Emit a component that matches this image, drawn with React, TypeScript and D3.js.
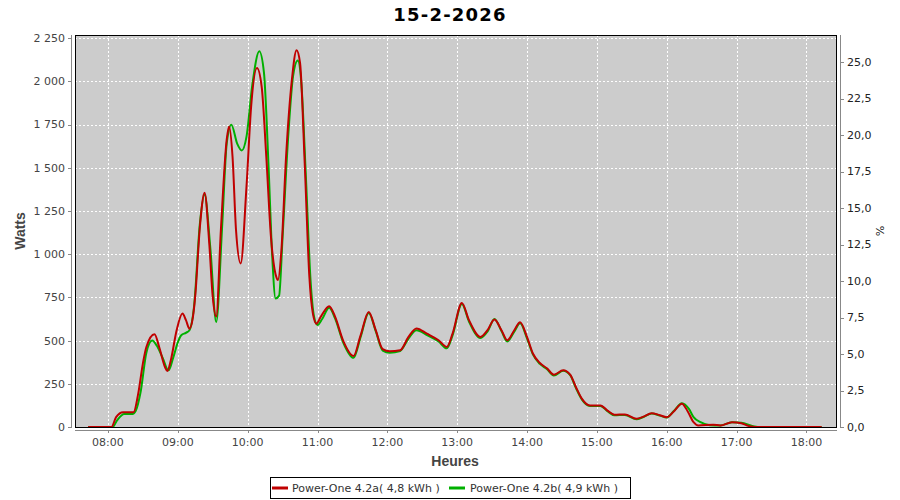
import React from "react";
import * as d3 from "d3";

const TITLE = "15-2-2026";
const SERIES_NAMES = ["Power-One 4.2a( 4,8 kWh )", "Power-One 4.2b( 4,9 kWh )"];
const X_TICKS = ["08:00", "09:00", "10:00", "11:00", "12:00", "13:00", "14:00", "15:00", "16:00", "17:00", "18:00"];
const Y_TICKS = [0, 250, 500, 750, 1000, 1250, 1500, 1750, 2000, 2250];
const PCT_TICKS = [0, 2.5, 5, 7.5, 10, 12.5, 15, 17.5, 20, 22.5, 25];

const redTimes = ["07:43","08:03","08:07","08:13","08:22","08:26","08:30","08:33","08:40","08:44","08:49","08:51","08:54","08:59","09:04","09:07","09:10","09:13","09:15","09:19","09:23","09:27","09:30","09:33","09:37","09:42","09:44","09:47","09:50","09:54","09:59","10:03","10:08","10:12","10:16","10:20","10:25","10:26","10:29","10:33","10:38","10:42","10:45","10:49","10:53","10:56","10:59","11:03","11:10","11:15","11:22","11:31","11:37","11:44","11:50","11:56","12:02","12:11","12:18","12:25","12:34","12:44","12:51","12:56","13:04","13:10","13:20","13:26","13:32","13:38","13:43","13:49","13:54","14:00","14:05","14:11","14:17","14:23","14:31","14:37","14:42","14:47","14:54","15:03","15:09","15:15","15:24","15:34","15:40","15:47","15:54","16:00","16:06","16:13","16:18","16:23","16:27","16:40","16:46","16:56","17:04","17:11","17:20","18:13"];
const redValues = [0,0,57,86,86,193,367,463,536,463,347,324,386,560,656,618,569,637,760,1160,1356,1064,753,640,1140,1662,1739,1565,1140,946,1391,1855,2077,1971,1565,1101,860,850,1024,1565,2010,2180,2107,1527,869,657,598,640,699,640,500,411,530,666,560,450,438,444,520,570,540,502,463,540,718,620,521,560,622,560,502,560,606,520,425,370,340,303,328,303,230,164,125,125,95,71,73,48,60,80,68,57,90,135,90,28,9,13,9,28,22,5,0,0];

const greenTimes = ["07:43","08:04","08:08","08:14","08:21","08:24","08:28","08:33","08:38","08:42","08:47","08:52","08:56","09:00","09:03","09:07","09:10","09:14","09:19","09:23","09:28","09:33","09:38","09:42","09:46","09:51","09:55","09:59","10:04","10:10","10:14","10:18","10:21","10:24","10:27","10:30","10:35","10:39","10:43","10:46","10:50","10:54","10:57","11:00","11:04","11:10","11:15","11:22","11:31","11:37","11:44","11:50","11:56","12:02","12:11","12:18","12:25","12:34","12:44","12:51","12:56","13:04","13:10","13:20","13:26","13:32","13:38","13:43","13:49","13:54","14:00","14:05","14:11","14:17","14:23","14:31","14:37","14:42","14:47","14:54","15:03","15:09","15:15","15:24","15:34","15:40","15:47","15:54","16:00","16:06","16:13","16:19","16:23","16:29","16:37","16:46","16:56","17:04","17:14","17:22","18:13"];
const greenValues = [0,0,40,75,75,95,200,430,500,470,400,328,400,490,531,545,560,700,1180,1345,1030,608,1150,1640,1749,1640,1600,1680,1980,2174,2050,1500,1000,744,760,1100,1700,2030,2120,2000,1450,850,640,590,625,690,630,490,400,520,660,555,442,430,440,510,560,532,495,455,530,712,612,515,552,625,555,495,552,600,512,420,365,335,298,325,300,225,160,122,122,92,68,70,45,58,78,66,55,92,138,105,57,28,10,9,28,25,5,0,0];

const W = 900, H = 500;
const PL = 75, PR = 837, PT = 35, PB = 427;

function toMin(s: string): number {
  const [h, m] = s.split(":").map(Number);
  return h * 60 + m;
}

export default function App() {
  const x = d3.scaleLinear().domain([451.7, 1106.2]).range([PL, PR]);
  const y = d3.scaleLinear().domain([0, 2268]).range([PB, PT]);
  const yPct = d3.scaleLinear().domain([0, 26.85]).range([PB, PT]);

  const line = d3
    .line<[number, number]>()
    .x((d) => x(d[0]))
    .y((d) => y(d[1]))
    .curve(d3.curveMonotoneX);

  const red: [number, number][] = redTimes.map((t, i) => [toMin(t), redValues[i]]);
  const green: [number, number][] = greenTimes.map((t, i) => [toMin(t), greenValues[i]]);

  const tickFont = { fontFamily: "DejaVu Sans", fontSize: 11, fill: "#444" } as const;
  const labelFont = { fontFamily: "Liberation Sans", fontSize: 14, fontWeight: "bold", fill: "#444" } as const;

  return (
    <svg width={W} height={H} style={{ position: "absolute", left: 0, top: 0, background: "#fff" }}>
      <defs>
        <clipPath id="plotclip">
          <rect x={PL} y={PT} width={PR - PL} height={PB - PT} />
        </clipPath>
      </defs>
      <text x={450} y={21} textAnchor="middle" fontFamily="DejaVu Sans" fontWeight="bold" fontSize={18} letterSpacing={1.2} fill="#000">
        {TITLE}
      </text>
      <rect x={PL} y={PT} width={PR - PL} height={PB - PT} fill="#cccccc" />
      {X_TICKS.map((t) => (
        <line key={"gx" + t} x1={Math.round(x(toMin(t))) + 0.5} x2={Math.round(x(toMin(t))) + 0.5} y1={PT} y2={PB} stroke="#fff" strokeDasharray="2,2" shapeRendering="crispEdges" />
      ))}
      {Y_TICKS.filter((v) => v > 0).map((v) => (
        <line key={"gy" + v} x1={PL} x2={PR} y1={Math.round(y(v)) + 0.5} y2={Math.round(y(v)) + 0.5} stroke="#fff" strokeDasharray="2,2" shapeRendering="crispEdges" />
      ))}
      <g clipPath="url(#plotclip)">
        <path d={line(green) || ""} fill="none" stroke="#00b000" strokeWidth={2} />
        <path d={line(red) || ""} fill="none" stroke="#c00000" strokeWidth={2} />
      </g>
      <rect x={PL + 0.5} y={PT + 0.5} width={PR - PL - 1} height={PB - PT} fill="none" stroke="#000" strokeWidth={1} shapeRendering="crispEdges" />
      {/* left axis */}
      <line x1={71.5} x2={71.5} y1={PT} y2={PB + 1} stroke="#888" shapeRendering="crispEdges" />
      {Y_TICKS.map((v) => (
        <g key={"ly" + v}>
          <line x1={68} x2={71.5} y1={Math.round(y(v)) + 0.5} y2={Math.round(y(v)) + 0.5} stroke="#888" shapeRendering="crispEdges" />
          <text x={65} y={y(v)} dy="0.36em" textAnchor="end" {...tickFont}>
            {d3.format(",")(v).replace(/,/g, " ")}
          </text>
        </g>
      ))}
      {/* right axis */}
      <line x1={840.5} x2={840.5} y1={PT} y2={PB + 1} stroke="#888" shapeRendering="crispEdges" />
      {PCT_TICKS.map((v) => (
        <g key={"ry" + v}>
          <line x1={840.5} x2={844} y1={Math.round(yPct(v)) + 0.5} y2={Math.round(yPct(v)) + 0.5} stroke="#888" shapeRendering="crispEdges" />
          <text x={847} y={yPct(v)} dy="0.36em" textAnchor="start" {...tickFont} fill="#222">
            {v.toFixed(1).replace(".", ",")}
          </text>
        </g>
      ))}
      {/* bottom axis */}
      <line x1={PL} x2={PR} y1={430.5} y2={430.5} stroke="#888" shapeRendering="crispEdges" />
      {X_TICKS.map((t) => (
        <g key={"bx" + t}>
          <line x1={Math.round(x(toMin(t))) + 0.5} x2={Math.round(x(toMin(t))) + 0.5} y1={430.5} y2={433} stroke="#888" shapeRendering="crispEdges" />
          <text x={x(toMin(t))} y={446} textAnchor="middle" {...tickFont}>
            {t}
          </text>
        </g>
      ))}
      <text x={455} y={466} textAnchor="middle" {...labelFont}>
        Heures
      </text>
      <text transform={`translate(25,${(PT + PB) / 2}) rotate(-90)`} textAnchor="middle" {...labelFont}>
        Watts
      </text>
      <text transform={`translate(876,${(PT + PB) / 2}) rotate(90)`} textAnchor="middle" fontFamily="DejaVu Sans" fontSize={11} fill="#222">
        %
      </text>
      {/* legend */}
      <rect x={270.5} y={477.5} width={360} height={21} fill="#fff" stroke="#000" shapeRendering="crispEdges" />
      <line x1={272} x2={288} y1={488} y2={488} stroke="#c00000" strokeWidth={3} />
      <text x={292} y={492} {...tickFont} fill="#333">
        {SERIES_NAMES[0]}
      </text>
      <line x1={449} x2={465} y1={488} y2={488} stroke="#00b000" strokeWidth={3} />
      <text x={470} y={492} {...tickFont} fill="#333">
        {SERIES_NAMES[1]}
      </text>
    </svg>
  );
}
